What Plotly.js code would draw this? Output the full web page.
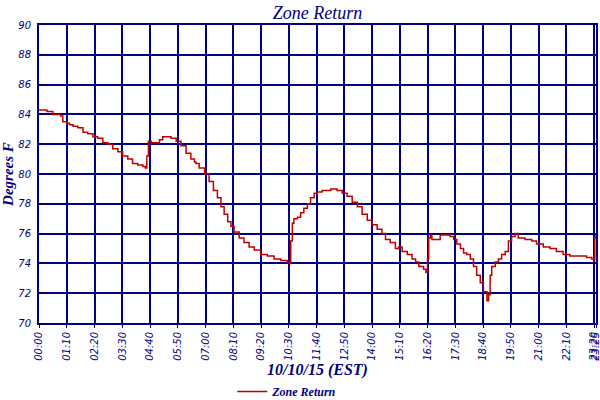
<!DOCTYPE html>
<html>
<head>
<meta charset="utf-8">
<script src="https://cdn.plot.ly/plotly-3.0.1.min.js"></script>
<style>
  html, body { margin: 0; padding: 0; background: #fff; }
  #chart { width: 600px; height: 400px; }
</style>
</head>
<body>
<div id="chart"></div>
<script>
// minutes after midnight on 10/10/15
const minutes = [0, 20, 35, 55, 60, 70, 77, 86, 98, 111, 123, 136, 148, 161, 174, 186, 199, 211, 224, 236, 249, 262, 268,
  272, 276, 283, 295, 304, 312, 322, 333, 346, 358, 371, 383, 392, 396, 404, 418, 429, 440, 450, 459, 467, 476, 484, 492,
  505, 517, 530, 543, 559, 576, 593, 610, 626, 631, 635, 639, 643, 652, 660, 668, 677, 685, 694, 702, 714, 723, 736, 744,
  752, 765, 777, 790, 803, 815, 828, 840, 853, 865, 874, 886, 899, 907, 916, 929, 941, 950, 958, 970, 976, 980, 983, 987,
  991, 1004, 1012, 1025, 1037, 1046, 1054, 1063, 1071, 1079, 1088, 1096, 1104, 1113, 1121, 1130, 1134, 1138, 1142, 1151,
  1159, 1167, 1176, 1184, 1192, 1201, 1209, 1226, 1243, 1255, 1272, 1289, 1305, 1322, 1339, 1356, 1373, 1381, 1394, 1399,
  1402, 1405];
const temps = [84.3, 84.2, 84.0, 83.9, 83.5, 83.4, 83.3, 83.2, 83.1, 82.8, 82.7, 82.5, 82.4, 82.1, 82.0, 81.7, 81.5, 81.2,
  81.0, 80.7, 80.6, 80.5, 80.4, 81.2, 82.2, 82.1, 82.1, 82.3, 82.5, 82.5, 82.4, 82.2, 81.9, 81.4, 81.0, 80.8, 80.7, 80.4,
  80.0, 79.5, 78.9, 78.4, 77.8, 77.3, 76.8, 76.5, 76.1, 75.7, 75.4, 75.1, 74.9, 74.6, 74.5, 74.3, 74.2, 74.1, 74.0, 75.5,
  76.7, 77.0, 77.1, 77.4, 77.7, 78.0, 78.4, 78.7, 78.8, 78.9, 78.9, 79.0, 79.0, 78.9, 78.7, 78.5, 78.1, 77.8, 77.3, 76.9,
  76.6, 76.3, 76.0, 75.6, 75.4, 75.0, 75.1, 74.8, 74.6, 74.3, 74.1, 73.8, 73.6, 73.4, 74.3, 75.7, 75.9, 75.6, 75.6, 75.9,
  75.9, 75.8, 75.6, 75.3, 75.0, 74.7, 74.6, 74.3, 73.8, 73.2, 72.7, 72.1, 71.5, 71.9, 73.2, 73.8, 74.1, 74.3, 74.6, 74.8,
  75.5, 75.8, 76.0, 75.7, 75.6, 75.5, 75.3, 75.1, 75.0, 74.8, 74.6, 74.5, 74.5, 74.5, 74.4, 74.3, 74.2, 75.7, 75.9];

const tickMinutes = [0, 70, 140, 210, 280, 350, 420, 490, 560, 630, 700, 770, 840, 910, 980, 1050, 1120, 1190, 1260, 1330, 1400, 1405];
const tickLabels = ['00:00', '01:10', '02:20', '03:30', '04:40', '05:50', '07:00', '08:10', '09:20', '10:30', '11:40', '12:50',
  '14:00', '15:10', '16:20', '17:30', '18:40', '19:50', '21:00', '22:10', '23:20', '23:25'];

const navy = '#000080';
const serif = '"Liberation Serif", "DejaVu Serif", serif';
const sans = '"DejaVu Sans", Verdana, sans-serif';

Plotly.newPlot('chart', [{
  x: minutes, y: temps,
  type: 'scatter', mode: 'lines',
  name: 'Zone Return',
  line: { color: '#c00000', width: 1.5, shape: 'hv' }
}], {
  width: 600, height: 400,
  paper_bgcolor: '#fff', plot_bgcolor: '#fff',
  margin: { l: 39, r: 4, t: 25, b: 77, autoexpand: false },
  title: {
    text: '<i>Zone Return</i>',
    font: { family: serif, size: 18, color: navy },
    xref: 'paper', x: 0.5, xanchor: 'center',
    yref: 'container', y: 0.985, yanchor: 'top'
  },
  xaxis: {
    range: [0, 1405], automargin: false,
    tickmode: 'array', tickvals: tickMinutes, ticktext: tickLabels,
    tickangle: -90, ticklabeloverflow: 'allow',
    tickfont: { family: sans, size: 10, color: navy, style: 'italic' },
    ticks: 'outside', ticklen: 3, tickcolor: navy,
    showgrid: true, gridcolor: navy, gridwidth: 2,
    showline: true, linecolor: navy, linewidth: 2, mirror: true,
    zeroline: false,
    title: { text: '<b><i>10/10/15 (EST)</i></b>', font: { family: serif, size: 16, color: navy }, standoff: 0 }
  },
  yaxis: {
    range: [70, 90], dtick: 2, automargin: false,
    tickfont: { family: sans, size: 10, color: navy, style: 'italic' },
    ticks: '', ticklabelstandoff: 4,
    showgrid: true, gridcolor: navy, gridwidth: 2,
    showline: true, linecolor: navy, linewidth: 2, mirror: true,
    zeroline: false,
    title: { text: '<b><i>Degrees F</i></b>', font: { family: serif, size: 15, color: navy }, standoff: 4 }
  },
  showlegend: true,
  legend: {
    orientation: 'h', x: 0.347, xanchor: 'left', y: -0.23, yanchor: 'middle',
    font: { family: serif, size: 12, color: navy, weight: 'bold', style: 'italic' },
    itemwidth: 30
  }
}, { displayModeBar: false, staticPlot: true });
</script>
</body>
</html>
